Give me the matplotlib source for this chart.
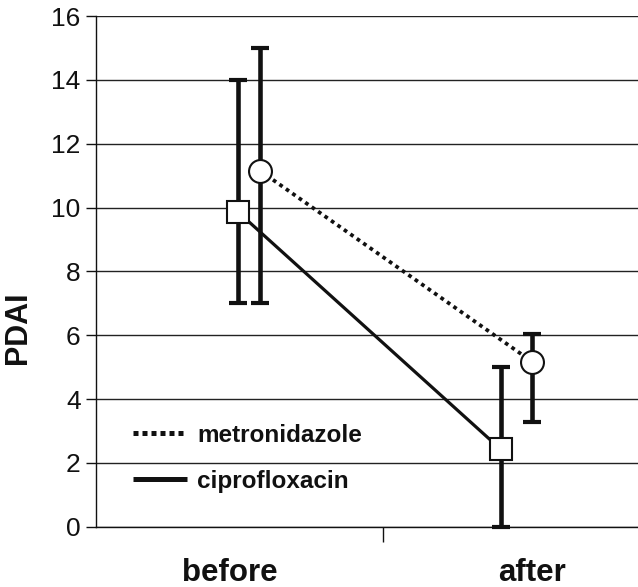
import matplotlib
matplotlib.use("Agg")
import matplotlib.pyplot as plt
from matplotlib.lines import Line2D
import matplotlib.transforms as mtransforms

plt.rcParams['font.family'] = ['Liberation Sans', 'DejaVu Sans']

# data
categories = ['before', 'after']
cipro_mean = [9.86, 2.43]
cipro_low = [7.0, 0.0]
cipro_high = [14.0, 5.0]
metro_mean = [11.15, 5.17]
metro_low = [7.0, 3.29]
metro_high = [15.0, 6.04]
yticks = [0, 2, 4, 6, 8, 10, 12, 14, 16]

# layout: category slots are 0-1 and 1-2, points drawn with a small offset
centers = [0.5, 1.5]
cipro_off = [-0.005, -0.09]
metro_off = [0.072, 0.02]
label_x = [0.467, 1.52]

ink = '#111111'

fig = plt.figure(figsize=(6.38, 5.87), dpi=100)
ax = fig.add_axes([96 / 638, 60.3 / 587, 1 - 96 / 638, 510.7 / 587])

x_cip = [c + o for c, o in zip(centers, cipro_off)]
x_met = [c + o for c, o in zip(centers, metro_off)]

# connecting lines
ax.plot(x_cip, cipro_mean, color=ink, lw=2.3, zorder=3, solid_capstyle='butt')
ax.plot(x_met, metro_mean, color=ink, lw=2.7, linestyle=(0, (1, 1.1)), zorder=3)

# error bars
cip_err = [[m - l for m, l in zip(cipro_mean, cipro_low)],
           [h - m for m, h in zip(cipro_mean, cipro_high)]]
met_err = [[m - l for m, l in zip(metro_mean, metro_low)],
           [h - m for m, h in zip(metro_mean, metro_high)]]
for xs, ms, err in [(x_cip, cipro_mean, cip_err), (x_met, metro_mean, met_err)]:
    eb = ax.errorbar(xs, ms, yerr=err, fmt='none', ecolor=ink, elinewidth=3.3,
                     capsize=6.5, capthick=3, zorder=2)
    for art in eb.lines[1] + eb.lines[2]:
        art.set_clip_on(False)

# markers
ax.plot(x_cip, cipro_mean, 's', ms=15.5, mfc='white', mec=ink, mew=1.5,
        zorder=5, clip_on=False)
ax.plot(x_met, metro_mean, 'o', ms=16.5, mfc='white', mec=ink, mew=1.5,
        zorder=5, clip_on=False)

ax.set_ylim(0, 16)
ax.set_xlim(0, 1.889)
ax.set_yticks(yticks)
ax.set_yticklabels([str(v) for v in yticks], fontsize=19)
ax.set_xticks([1.0])
ax.set_xticklabels([''])
ax.tick_params(axis='y', direction='out', length=7, width=1, pad=4, colors=ink)
ax.tick_params(axis='x', direction='out', length=11, width=1, colors=ink)

ax.grid(axis='y', color='#222222', lw=1)
ax.set_axisbelow(True)
for s in ['top', 'right']:
    ax.spines[s].set_visible(False)
for s in ['left', 'bottom']:
    ax.spines[s].set_color(ink)
    ax.spines[s].set_linewidth(1)

ax.set_ylabel('PDAI', fontsize=22, fontweight='bold', color=ink)
ax.yaxis.set_label_coords(-0.116, 0.389)

trans = mtransforms.blended_transform_factory(ax.transData, fig.transFigure)
for xp, name in zip(label_x, categories):
    ax.text(xp, 6 / 587, name, transform=trans, ha='center', va='baseline',
            fontsize=22.5, fontweight='bold', color=ink)

handles = [Line2D([], [], color=ink, lw=3.6, linestyle=(0, (1, 0.8))),
           Line2D([], [], color=ink, lw=3.6, solid_capstyle='butt')]
ax.legend(handles, ['metronidazole', 'ciprofloxacin'], loc='center left',
          bbox_to_anchor=(0.027, 0.134), frameon=False,
          prop={'size': 17.5, 'weight': 'bold'}, handlelength=2.25,
          handletextpad=0.4, labelspacing=0.95, labelcolor=ink)

fig.savefig('out.png', dpi=100)
